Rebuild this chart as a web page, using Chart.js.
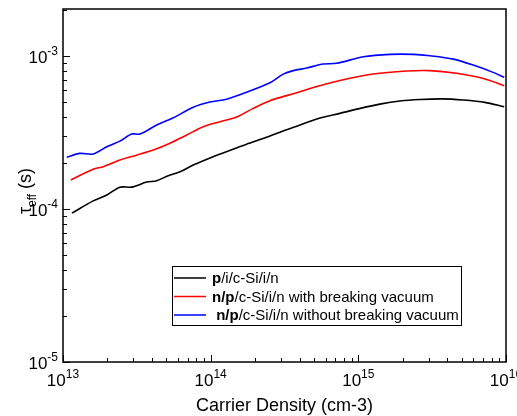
<!DOCTYPE html>
<html>
<head>
<meta charset="utf-8">
<script src="https://cdn.jsdelivr.net/npm/chart.js@4/dist/chart.umd.min.js"></script>
<style>
  body { margin: 0; background: #fff; }
  canvas { display: block; }
</style>
</head>
<body>
<canvas id="chart" width="517" height="416"></canvas>
<script>
// Carrier density (cm-3) and effective lifetime (s)
var blackDensity = [1.15e13, 1.6e13, 1.98e13, 2.43e13, 2.92e13, 3.69e13, 4.31e13, 5.16e13, 6.2e13, 7.62e13,
    1.04e14, 1.28e14, 1.75e14, 2.39e14, 3.1e14, 4.03e14, 5.5e14, 7.5e14,
    1.03e15, 1.4e15, 1.91e15, 2.61e15, 3.74e15, 5.13e15, 7.19e15, 9.72e15];
var blackTau = [9.4e-5, 1.13e-4, 1.235e-4, 1.39e-4, 1.39e-4, 1.5e-4, 1.53e-4, 1.65e-4, 1.75e-4, 1.94e-4,
    2.2e-4, 2.37e-4, 2.65e-4, 2.94e-4, 3.24e-4, 3.54e-4, 3.94e-4, 4.22e-4,
    4.55e-4, 4.85e-4, 5.08e-4, 5.2e-4, 5.25e-4, 5.16e-4, 4.98e-4, 4.66e-4];

var redDensity = [1.13e13, 1.6e13, 1.875e13, 2.43e13, 3.15e13, 4.09e13, 5.3e13, 6.88e13, 8.91e13,
    1.16e14, 1.5e14, 1.94e14, 2.52e14, 3.27e14, 4.03e14, 4.95e14, 7.5e14,
    1.26e15, 2.12e15, 3.05e15, 4.63e15, 7.02e15, 9.72e15];
var redTau = [1.55e-4, 1.82e-4, 1.89e-4, 2.09e-4, 2.25e-4, 2.43e-4, 2.69e-4, 3.05e-4, 3.45e-4,
    3.72e-4, 3.99e-4, 4.55e-4, 5.11e-4, 5.51e-4, 5.85e-4, 6.23e-4, 6.92e-4,
    7.63e-4, 7.98e-4, 8.03e-4, 7.71e-4, 7.13e-4, 6.4e-4];

var blueDensity = [1.06e13, 1.3e13, 1.6e13, 1.98e13, 2.43e13, 2.92e13, 3.32e13, 4.31e13, 5.58e13, 7.62e13, 9.89e13,
    1.28e14, 1.75e14, 2.52e14, 3.1e14, 3.63e14, 4.47e14, 5.78e14, 7.13e14,
    1.08e15, 1.64e15, 2.36e15, 3.05e15, 4.4e15, 6.0e15, 8.18e15, 9.72e15];
var blueTau = [2.18e-4, 2.31e-4, 2.29e-4, 2.55e-4, 2.78e-4, 3.09e-4, 3.09e-4, 3.54e-4, 3.95e-4, 4.62e-4, 5.0e-4,
    5.22e-4, 5.8e-4, 6.69e-4, 7.62e-4, 8.03e-4, 8.35e-4, 8.87e-4, 8.96e-4,
    9.89e-4, 1.026e-3, 1.026e-3, 1.005e-3, 9.55e-4, 8.73e-4, 7.82e-4, 7.26e-4];

// Legend labels: bold part + normal part
var legendBold = ['p', 'n/p', ' n/p'];
var legendRest = ['/i/c-Si/i/n', '/c-Si/i/n with breaking vacuum', '/c-Si/i/n without breaking vacuum'];

var xDecades = [13, 14, 15, 16];
var yDecades = [-5, -4, -3];

function toPoints(xs, ys) {
    return xs.map(function (x, i) { return {x: x, y: ys[i]}; });
}

var FONT = '"Liberation Sans", Arial, sans-serif';

// draws frame, inward ticks, superscript tick labels, titles and the legend box
var decorations = {
    id: 'decorations',
    afterDraw: function (chart) {
        var ctx = chart.ctx;
        var a = chart.chartArea;
        var xs = chart.scales.x, ys = chart.scales.y;
        ctx.save();
        ctx.strokeStyle = '#000';
        ctx.fillStyle = '#000';
        ctx.lineWidth = 1.5;
        ctx.strokeRect(a.left, a.top, a.right - a.left, a.bottom - a.top);

        // x ticks
        ctx.lineWidth = 1;
        for (var d = xDecades[0]; d <= xDecades[xDecades.length - 1]; d++) {
            for (var m = 1; m <= 9; m++) {
                var v = m * Math.pow(10, d);
                if (v < xs.min * 0.999 || v > xs.max * 1.001) continue;
                var px = Math.round(xs.getPixelForValue(v)) + 0.5;
                var len = m === 1 ? 7 : 4;
                ctx.beginPath();
                ctx.moveTo(px, a.bottom);
                ctx.lineTo(px, a.bottom - len);
                ctx.stroke();
            }
        }
        // y ticks
        for (var k = yDecades[0]; k <= yDecades[yDecades.length - 1]; k++) {
            for (var n = 1; n <= 9; n++) {
                var w = n * Math.pow(10, k);
                if (w < ys.min * 0.999 || w > ys.max * 1.001) continue;
                var py = Math.round(ys.getPixelForValue(w)) + 0.5;
                var l2 = n === 1 ? 7 : 4;
                ctx.beginPath();
                ctx.moveTo(a.left, py);
                ctx.lineTo(a.left + l2, py);
                ctx.stroke();
            }
        }

        // x tick labels: 10^d centred under tick
        xDecades.forEach(function (d) {
            var px = xs.getPixelForValue(Math.pow(10, d));
            ctx.font = '17px ' + FONT;
            var wBase = ctx.measureText('10').width;
            ctx.font = '12px ' + FONT;
            var wExp = ctx.measureText(String(d)).width;
            var x0 = px - (wBase + wExp) / 2;
            ctx.textBaseline = 'alphabetic';
            ctx.textAlign = 'left';
            ctx.font = '17px ' + FONT;
            ctx.fillText('10', x0, a.bottom + 24);
            ctx.font = '12px ' + FONT;
            ctx.fillText(String(d), x0 + wBase, a.bottom + 16);
        });
        // y tick labels: right-aligned left of axis
        yDecades.forEach(function (k) {
            var py = ys.getPixelForValue(Math.pow(10, k));
            ctx.font = '12px ' + FONT;
            var wExp = ctx.measureText(String(k)).width;
            ctx.font = '17px ' + FONT;
            var wBase = ctx.measureText('10').width;
            var xEnd = a.left - 5;
            ctx.textAlign = 'left';
            ctx.fillText('10', xEnd - wExp - wBase, py + 7);
            ctx.font = '12px ' + FONT;
            ctx.fillText(String(k), xEnd - wExp, py - 1);
        });

        // x title
        ctx.font = '18px ' + FONT;
        ctx.textAlign = 'center';
        ctx.fillText('Carrier Density (cm-3)', (a.left + a.right) / 2, 411);

        // y title: tau_eff (s), rotated
        ctx.save();
        ctx.translate(31, 191);
        ctx.rotate(-Math.PI / 2);
        ctx.textAlign = 'left';
        ctx.font = '18px ' + FONT;
        var wTau = ctx.measureText('\u03c4').width;
        ctx.font = '12px ' + FONT;
        var wEff = ctx.measureText('eff').width;
        ctx.font = '18px ' + FONT;
        var wS = ctx.measureText(' (s)').width;
        var tx = -(wTau + wEff + wS) / 2;
        ctx.fillText('\u03c4', tx, 0);
        ctx.font = '12px ' + FONT;
        ctx.fillText('eff', tx + wTau, 5);
        ctx.font = '18px ' + FONT;
        ctx.fillText(' (s)', tx + wTau + wEff, 0);
        ctx.restore();

        // legend box
        var bx = 172, by = 266, bw = 289, bh = 59;
        ctx.lineWidth = 1;
        ctx.strokeStyle = '#000';
        ctx.strokeRect(bx + 0.5, by + 0.5, bw, bh);
        chart.data.datasets.forEach(function (ds, i) {
            var ry = by + 12 + i * 18.5;
            ctx.strokeStyle = ds.borderColor;
            ctx.lineWidth = 1.5;
            ctx.beginPath();
            ctx.moveTo(bx + 2, ry);
            ctx.lineTo(bx + 34, ry);
            ctx.stroke();
            ctx.fillStyle = '#000';
            ctx.textAlign = 'left';
            ctx.textBaseline = 'middle';
            ctx.font = 'bold 15px ' + FONT;
            var tx2 = bx + 40;
            ctx.fillText(legendBold[i], tx2, ry + 1);
            tx2 += ctx.measureText(legendBold[i]).width;
            ctx.font = '15px ' + FONT;
            ctx.fillText(legendRest[i], tx2, ry + 1);
        });
        ctx.restore();
    }
};

var ctx = document.getElementById('chart').getContext('2d');
var chart = new Chart(ctx, {
    type: 'line',
    data: {
        datasets: [
            {label: legendBold[0] + legendRest[0], data: toPoints(blackDensity, blackTau), borderColor: '#000000'},
            {label: legendBold[1] + legendRest[1], data: toPoints(redDensity, redTau), borderColor: '#ff0000'},
            {label: legendBold[2] + legendRest[2], data: toPoints(blueDensity, blueTau), borderColor: '#0000ff'}
        ]
    },
    options: {
        responsive: false,
        animation: false,
        layout: {padding: {top: 9, right: 11, left: 0, bottom: 0}},
        elements: {
            point: {radius: 0},
            line: {borderWidth: 1.6, tension: 0.3, fill: false}
        },
        plugins: {
            legend: {display: false},
            tooltip: {enabled: false}
        },
        scales: {
            x: {
                type: 'logarithmic',
                min: 1e13,
                max: 1e16,
                grid: {display: false},
                border: {display: false},
                ticks: {display: false},
                afterFit: function (s) { s.height = 54; }
            },
            y: {
                type: 'logarithmic',
                min: 1e-5,
                max: 2.03e-3,
                grid: {display: false},
                border: {display: false},
                ticks: {display: false},
                afterFit: function (s) { s.width = 63; }
            }
        }
    },
    plugins: [decorations]
});
</script>
</body>
</html>
